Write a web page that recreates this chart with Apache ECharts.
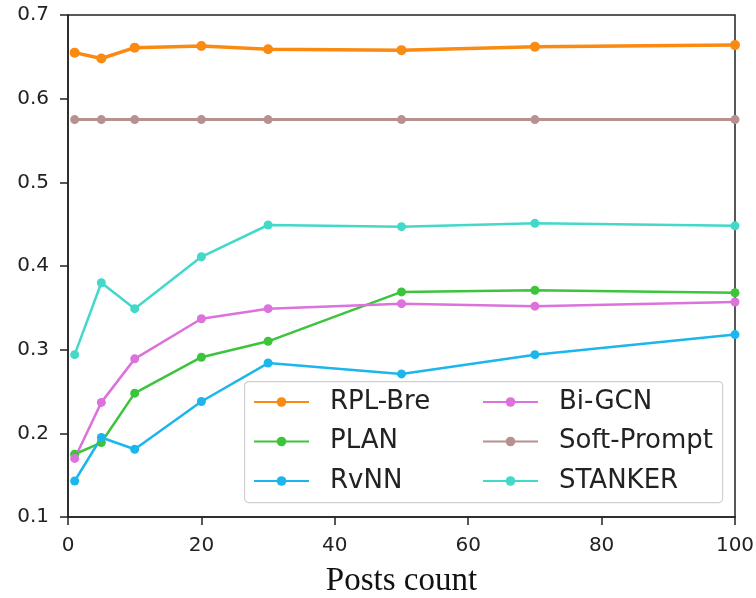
<!DOCTYPE html>
<html>
<head>
<meta charset="utf-8">
<script src="https://cdn.jsdelivr.net/npm/echarts@6/dist/echarts.min.js"></script>
<style>html,body{margin:0;padding:0;background:#fff;}#c{width:756px;height:598px;}</style>
</head>
<body>
<div id="c"></div>
<script>
const postsCount = [1, 5, 10, 20, 30, 50, 70, 100];
const rplBre     = [0.655, 0.648, 0.661, 0.663, 0.659, 0.658, 0.662, 0.664];
const plan       = [0.175, 0.189, 0.248, 0.291, 0.310, 0.369, 0.371, 0.368];
const rvnn       = [0.143, 0.195, 0.181, 0.238, 0.284, 0.271, 0.294, 0.318];
const biGcn      = [0.170, 0.237, 0.289, 0.337, 0.349, 0.355, 0.352, 0.357];
const softPrompt = [0.575, 0.575, 0.575, 0.575, 0.575, 0.575, 0.575, 0.575];
const stanker    = [0.294, 0.380, 0.349, 0.411, 0.449, 0.447, 0.451, 0.448];
const xTicks = [0, 20, 40, 60, 80, 100];
const yTicks = [0.1, 0.2, 0.3, 0.4, 0.5, 0.6, 0.7];

const seriesDefs = [
  {name: 'RPL-Bre', data: rplBre, color: '#fa8a12', width: 3.5, size: 10},
  {name: 'PLAN', data: plan, color: '#3cc43c', width: 2.5, size: 9},
  {name: 'RvNN', data: rvnn, color: '#1db6ec', width: 2.5, size: 9},
  {name: 'Bi-GCN', data: biGcn, color: '#dc72dc', width: 2.5, size: 9},
  {name: 'Soft-Prompt', data: softPrompt, color: '#b99090', width: 3, size: 9},
  {name: 'STANKER', data: stanker, color: '#42d9c9', width: 2.5, size: 9}
];

const chart = echarts.init(document.getElementById('c'), null, {renderer: 'canvas'});
const legendCommon = {
  orient: 'vertical', top: 389, padding: 0, itemWidth: 55, itemHeight: 12, itemGap: 13.5,
  z: 5,
  textStyle: {fontFamily: 'DejaVu Sans', fontSize: 26, color: '#222', lineHeight: 25, padding: [0, 0, 0, 16]}
};
chart.setOption({
  animation: false,
  backgroundColor: '#fff',
  grid: {left: 68, right: 21, top: 15, bottom: 81, show: true, borderColor: '#222', borderWidth: 1.5,
         backgroundColor: 'transparent', containLabel: false, outerBoundsMode: 'none'},
  xAxis: {
    type: 'value', min: xTicks[0], max: xTicks[xTicks.length - 1], interval: 20,
    name: 'Posts count', nameLocation: 'middle', nameGap: 48,
    nameTextStyle: {fontFamily: 'Liberation Serif', fontSize: 33, color: '#111', lineHeight: 33},
    axisLine: {show: true, lineStyle: {color: '#222', width: 1.5}},
    axisTick: {show: true, length: 8, lineStyle: {color: '#222', width: 1.5}},
    axisLabel: {fontFamily: 'DejaVu Sans', fontSize: 20, color: '#222', margin: 19},
    splitLine: {show: false}
  },
  yAxis: {
    type: 'value', min: yTicks[0], max: yTicks[yTicks.length - 1], interval: 0.1,
    axisLine: {show: true, lineStyle: {color: '#222', width: 1.5}},
    axisTick: {show: true, length: 8, lineStyle: {color: '#222', width: 1.5}},
    axisLabel: {fontFamily: 'DejaVu Sans', fontSize: 20, color: '#222', margin: 19, formatter: v => v.toFixed(1)},
    splitLine: {show: false}
  },
  legend: [
    Object.assign({}, legendCommon, {left: 253, data: ['RPL-Bre', 'PLAN', 'RvNN']}),
    Object.assign({}, legendCommon, {left: 482, data: ['Bi-GCN', 'Soft-Prompt', 'STANKER']})
  ],
  graphic: [{
    type: 'rect', left: 244, top: 381, z: 4,
    shape: {width: 478, height: 121, r: 4},
    style: {fill: 'rgba(255,255,255,0.85)', stroke: '#d0d0d0', lineWidth: 1.2}
  }],
  series: seriesDefs.map(s => ({
    name: s.name, type: 'line',
    data: postsCount.map((x, i) => [x, s.data[i]]),
    symbol: 'circle', symbolSize: s.size,
    lineStyle: {color: s.color, width: s.width},
    itemStyle: {color: s.color},
    clip: true
  }))
});
</script>
</body>
</html>
